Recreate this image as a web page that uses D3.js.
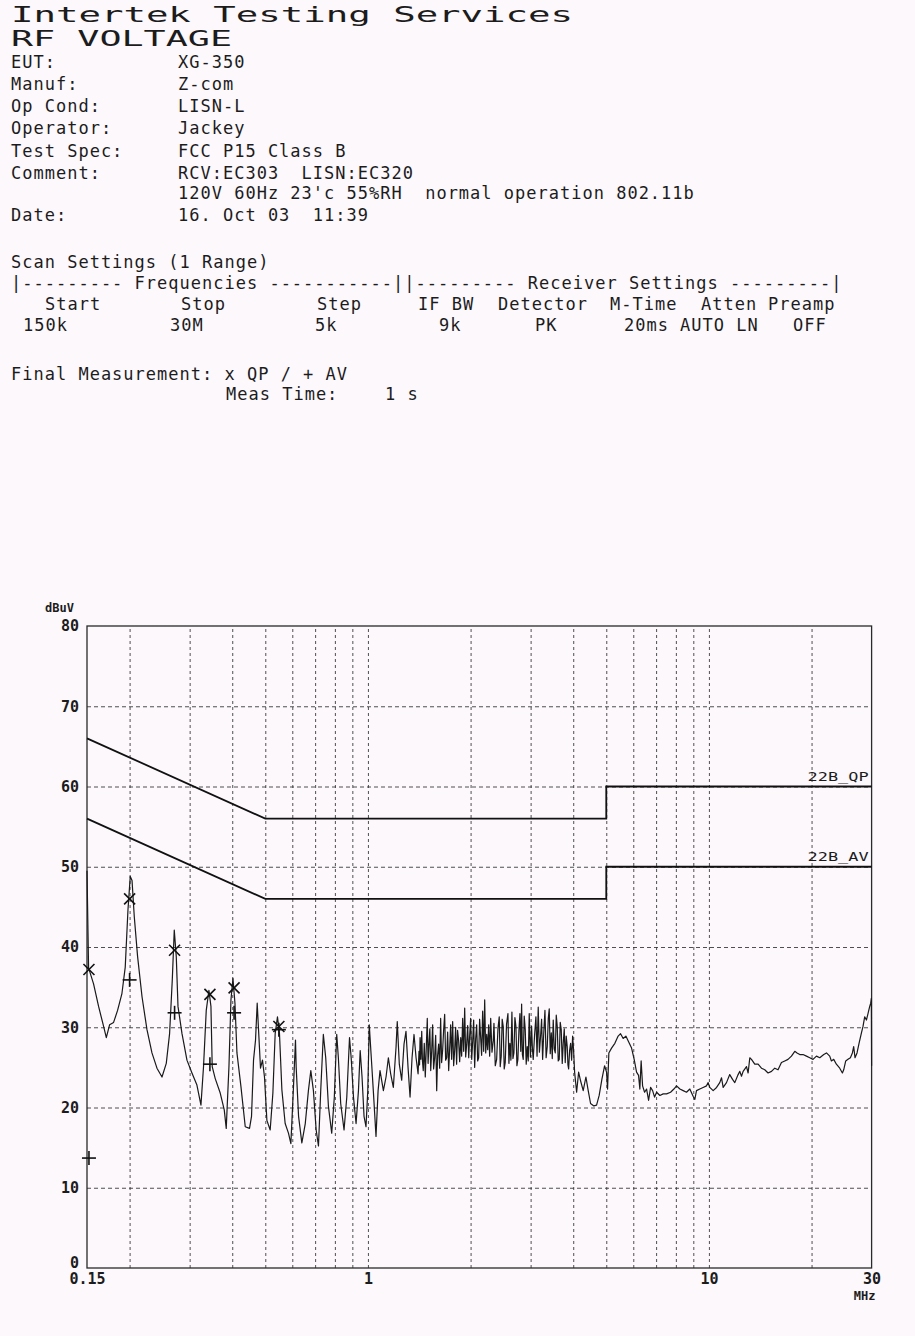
<!DOCTYPE html>
<html>
<head>
<meta charset="utf-8">
<script src="https://cdn.jsdelivr.net/npm/d3@7"></script>
<style>
  html, body { margin: 0; padding: 0; background: #fcf8fc; }
  svg { display: block; }
  text { white-space: pre; }
</style>
</head>
<body>
<svg id="page" width="915" height="1336"></svg>
<script>
// ---------- report header ----------
const reportTitle = "Intertek Testing Services";
const reportSubtitle = "RF VOLTAGE";
const infoLabels = ["EUT:", "Manuf:", "Op Cond:", "Operator:", "Test Spec:", "Comment:", "", "Date:"];
const infoValues = ["XG-350", "Z-com", "LISN-L", "Jackey", "FCC P15 Class B",
  "RCV:EC303  LISN:EC320", "120V 60Hz 23'c 55%RH  normal operation 802.11b", "16. Oct 03  11:39"];

// ---------- scan settings ----------
const scanTitle = "Scan Settings (1 Range)";
const scanRule = "|--------- Frequencies -----------||--------- Receiver Settings ---------|";
const scanHeads = ["Start", "Stop", "Step", "IF BW", "Detector", "M-Time", "Atten", "Preamp"];
const scanValues = ["150k", "30M", "5k", "9k", "PK", "20ms", "AUTO LN", "OFF"];
const finalLine1 = "Final Measurement: x QP / + AV";
const finalLine2a = "Meas Time:";
const finalLine2b = "1 s";

// ---------- chart axes ----------
const yTicks = [0, 10, 20, 30, 40, 50, 60, 70, 80];
const xTickLabels = [0.15, 1, 10, 30];
const gridFreqs = [0.2, 0.3, 0.4, 0.5, 0.6, 0.7, 0.8, 0.9, 1, 2, 3, 4, 5, 6, 7, 8, 9, 10, 20];

// ---------- limit lines (FCC Part 15 Class B, conducted) ----------
const limitQP = [[0.15, 66], [0.5, 56], [5, 56], [5, 60], [30, 60]];
const limitAV = [[0.15, 56], [0.5, 46], [5, 46], [5, 50], [30, 50]];
const limitNames = ["22B_QP", "22B_AV"];

// ---------- final measurements ----------
const finalFreq = [0.152, 0.200, 0.271, 0.344, 0.405, 0.548];
const qpLevel   = [37.2, 46.0, 39.6, 34.1, 34.9, 30.1];
const avLevel   = [13.7, 35.9, 31.8, 25.4, 31.8, 29.7];

// ---------- peak scan (MHz, dBuV) ----------
const peakScan = [
  [0.150,49.5],[0.1516,37.4],[0.1568,35.4],[0.1622,32.6],[0.1678,30.1],[0.1709,28.7],[0.1747,30.3],
  [0.1795,30.6],[0.1844,32.1],[0.1899,34.2],[0.1942,37.5],[0.1978,44.6],[0.2009,48.8],[0.2033,48.3],
  [0.2064,43.8],[0.2111,38.8],[0.2175,33.8],[0.2249,29.7],[0.2326,26.8],[0.2406,24.9],[0.2489,23.8],
  [0.2562,25.5],[0.2620,29.2],[0.2668,35.9],[0.2704,42.1],[0.2741,38.8],[0.2773,32.6],[0.2849,29.2],
  [0.2946,25.9],[0.3047,24.3],[0.3151,22.8],[0.3238,20.3],[0.3295,25.1],[0.3356,32.1],[0.3417,34.6],
  [0.3464,32.6],[0.3494,25.1],[0.3566,23.6],[0.3688,21.8],[0.3790,19.7],[0.3841,17.4],[0.3912,25.1],
  [0.3965,33.4],[0.4019,36.1],[0.4074,33.0],[0.4129,26.8],[0.4242,22.6],[0.4367,17.6],[0.4495,17.4],
  [0.4556,18.9],[0.4618,25.9],[0.4681,28.4],[0.4734,33.0],[0.4789,28.8],[0.4841,24.9],[0.4906,25.9],
  [0.4973,23.8],[0.5054,18.4],[0.5168,17.2],[0.5263,21.8],[0.5345,29.2],[0.5429,31.3],[0.5503,29.2],
  [0.5593,22.2],[0.5718,18.0],[0.5847,16.8],[0.5943,15.5],[0.6049,22.6],[0.6131,28.4],
  [0.616,25.0],[0.626,18.9],[0.640,15.6],[0.655,18.0],[0.669,22.1],[0.680,24.6],[0.692,22.1],
  [0.705,17.2],[0.716,15.2],[0.727,22.1],[0.740,29.1],[0.752,26.2],[0.766,20.1],[0.783,16.8],
  [0.797,21.3],[0.810,29.1],[0.819,26.2],[0.832,20.5],[0.851,17.2],[0.867,21.3],[0.883,28.7],
  [0.893,26.2],[0.907,21.3],[0.923,18.0],[0.938,22.1],[0.949,27.1],[0.961,23.8],[0.974,18.9],
  [0.987,17.6],[0.999,22.1],[1.009,30.3],[1.023,26.2],[1.037,22.1],[1.056,16.4],[1.071,22.1],
  [1.085,24.6],[1.110,22.1],[1.130,23.8],[1.148,26.2],[1.166,24.2],[1.187,22.5],[1.209,27.5],
  [1.219,30.7],[1.236,25.4],[1.256,23.4],[1.276,27.9],[1.293,29.5],[1.311,25.0],[1.329,21.3],
  [1.347,26.2],[1.365,29.1],[1.384,26.2],
  [1.403,24.2],[1.412,27.0],[1.417,25.3],[1.422,28.7],[1.430,26.0],[1.438,29.5],[1.445,25.8],
  [1.453,24.6],[1.463,28.0],[1.473,23.8],[1.483,27.5],[1.493,31.1],[1.501,25.5],[1.510,27.9],
  [1.519,29.8],[1.528,24.6],[1.538,27.0],[1.548,30.3],[1.558,24.8],[1.569,26.2],[1.580,29.0],
  [1.591,22.1],[1.601,26.5],[1.612,27.9],[1.623,24.9],[1.634,31.1],[1.645,25.6],[1.656,27.1],
  [1.667,29.6],[1.679,31.6],[1.690,25.9],[1.702,26.2],[1.713,29.4],[1.725,24.6],[1.737,27.4],
  [1.748,30.3],[1.760,26.0],[1.772,30.7],[1.784,25.2],[1.796,27.1],[1.808,30.0],[1.820,25.4],
  [1.832,29.6],[1.845,28.3],[1.858,25.7],[1.871,28.7],[1.883,26.4],[1.896,31.1],[1.909,27.0],
  [1.922,32.4],[1.935,26.3],[1.948,27.9],[1.961,30.2],[1.975,26.2],[1.988,29.0],[2.001,31.1],
  [2.015,26.0],[2.029,28.3],[2.042,30.9],[2.056,25.0],[2.070,28.6],[2.084,30.3],[2.098,25.8],
  [2.112,26.2],[2.126,31.0],[2.141,28.7],[2.155,26.5],[2.170,32.0],[2.185,27.0],[2.200,33.4],
  [2.215,26.8],[2.230,29.1],[2.245,27.2],[2.260,30.3],[2.275,26.4],[2.291,31.1],[2.311,26.9],
  [2.331,28.3],
  [2.342,30.5],[2.363,25.2],[2.385,26.0],[2.406,29.8],[2.427,31.3],[2.443,25.1],[2.460,26.4],
  [2.476,31.0],[2.493,30.1],[2.510,24.8],[2.527,25.6],[2.550,30.4],[2.574,31.7],[2.591,25.5],
  [2.608,28.0],[2.626,25.9],[2.644,31.9],[2.662,26.1],[2.680,26.8],[2.698,31.2],[2.717,30.1],
  [2.735,25.2],[2.753,26.0],[2.772,29.6],[2.791,31.7],[2.807,27.0],[2.823,32.9],[2.838,26.6],
  [2.854,26.0],[2.873,31.4],[2.893,29.7],[2.912,25.4],[2.932,27.6],[2.952,25.8],[2.972,31.7],
  [2.996,26.3],[3.020,30.1],[3.036,27.4],[3.053,26.0],[3.081,29.0],[3.109,31.3],[3.133,26.4],
  [3.158,32.5],[3.183,26.9],[3.209,28.9],[3.231,31.0],[3.253,26.0],[3.279,29.4],[3.305,32.1],
  [3.331,26.2],[3.357,27.6],[3.380,31.1],[3.402,32.3],[3.425,26.7],[3.449,29.3],[3.472,26.1],
  [3.495,30.9],[3.519,27.3],[3.543,26.8],[3.567,31.5],[3.591,30.1],[3.615,25.8],[3.640,26.0],
  [3.664,30.6],[3.689,29.7],[3.714,25.5],[3.739,28.0],[3.765,29.8],[3.790,25.6],[3.815,28.9],
  [3.841,27.6],[3.860,25.3],[3.878,24.8],[3.904,27.1],[3.930,28.0],[3.957,25.9],[3.984,28.9],
  [4.011,27.0],[4.038,24.4],[4.093,21.9],[4.148,24.4],
  [4.205,23.3],[4.279,22.1],[4.358,23.8],[4.426,22.1],[4.497,20.5],[4.599,20.2],[4.683,20.3],
  [4.766,21.5],[4.854,23.5],[4.943,25.2],[5.010,24.4],[5.044,22.3],[5.088,26.8],[5.182,27.4],
  [5.299,28.0],[5.418,28.9],[5.507,29.2],[5.605,28.6],[5.708,28.9],[5.813,28.2],[5.932,27.4],
  [6.037,26.0],[6.135,24.4],[6.218,24.0],[6.273,22.3],[6.328,25.8],[6.389,22.7],[6.477,21.9],
  [6.565,22.3],[6.655,20.9],[6.745,22.5],[6.837,22.1],[6.929,21.3],[7.024,21.9],[7.182,21.5],
  [7.344,21.7],[7.514,21.7],[7.719,21.9],[7.893,22.3],[8.038,22.7],
  [8.219,22.3],[8.404,22.1],[8.596,21.9],[8.790,22.3],[8.988,21.4],[9.092,21.0],[9.196,22.1],
  [9.403,22.3],[9.616,22.5],[9.840,22.7],[9.946,23.1],[10.06,22.5],[10.29,22.1],[10.53,22.5],
  [10.76,23.1],[10.89,23.7],[11.01,22.5],[11.26,23.1],[11.51,24.1],[11.73,23.5],[11.91,23.1],
  [12.18,24.1],[12.32,24.5],[12.46,23.9],[12.60,24.5],[12.89,25.1],[13.03,24.3],[13.18,26.2],
  [13.33,26.0],[13.63,25.4],[13.94,25.4],[14.26,24.9],[14.58,24.7],[14.91,24.3],[15.26,24.5],
  [15.60,24.9],[15.95,24.7],[16.32,25.6],[16.69,25.8],[17.06,26.0],[17.46,26.4],[17.86,27.0],
  [18.13,26.8],[18.47,26.6],[18.88,26.6],[19.32,26.4],[19.76,26.2],[20.20,26.0],[20.67,26.4],
  [21.14,26.2],[21.72,26.6],[22.12,26.8],[22.61,26.4],[22.87,25.8],[23.23,26.0],[23.65,25.4],
  [24.19,24.9],[24.63,24.3],[24.85,24.7],[25.19,25.8],[25.58,26.0],[26.00,26.2],[26.35,26.8],
  [26.58,27.6],[26.82,26.2],[27.19,26.8],[27.56,28.0],[28.01,29.3],[28.31,30.1],[28.63,31.3],
  [28.97,30.9],[29.28,31.7],[29.62,32.6],[29.82,33.0],[29.95,33.6],[30.0,25.2]
];

// ---------- drawing ----------
const svg = d3.select("#page");
svg.append("rect").attr("width", 915).attr("height", 1336).attr("fill", "#fcf8fc");

const ink = "#1c1c1c";
const monoFont = "'DejaVu Sans Mono', 'Liberation Mono', monospace";

// header title lines (wide plotter style)
svg.append("text").text(reportTitle)
  .attr("x", 11).attr("y", 22)
  .attr("font-family", monoFont).attr("font-size", 21)
  .attr("textLength", 562).attr("lengthAdjust", "spacingAndGlyphs")
  .attr("fill", ink);
svg.append("text").text(reportSubtitle)
  .attr("x", 11).attr("y", 46)
  .attr("font-family", monoFont).attr("font-size", 21)
  .attr("textLength", 221).attr("lengthAdjust", "spacingAndGlyphs")
  .attr("fill", ink);

const bodyText = (str, x, y) => svg.append("text").text(str)
  .attr("x", x).attr("y", y)
  .attr("font-family", monoFont).attr("font-size", 17)
  .attr("letter-spacing", 1.0)
  .attr("fill", ink);

const infoBaselines = [68, 90, 112, 134, 157, 179, 199, 221];
infoLabels.forEach((t, i) => { if (t) bodyText(t, 11, infoBaselines[i]); });
infoValues.forEach((t, i) => bodyText(t, 178, infoBaselines[i]));

bodyText(scanTitle, 11, 268);
bodyText(scanRule, 11, 289);
const headX = [45, 181, 317, 418, 498, 610, 701, 768];
const valX = [23, 170, 315, 439, 535, 624, 680, 793];
scanHeads.forEach((t, i) => bodyText(t, headX[i], 310));
scanValues.forEach((t, i) => bodyText(t, valX[i], 331));
bodyText(finalLine1, 11, 380);
bodyText(finalLine2a, 226, 400);
bodyText(finalLine2b, 385, 400);

// ---------- plot ----------
const plot = { left: 87, right: 871.6, top: 626, bottom: 1268 };
const x = d3.scaleLog().domain([0.15, 30]).range([plot.left, plot.right]);
const y = d3.scaleLinear().domain([0, 80]).range([plot.bottom, plot.top]);

const g = svg.append("g");

// grid
g.append("g").attr("transform", `translate(0,${plot.bottom})`)
  .call(d3.axisBottom(x).tickValues(gridFreqs).tickSize(-(plot.bottom - plot.top)).tickFormat(""))
  .call(s => s.select(".domain").remove())
  .call(s => s.selectAll("line").attr("stroke", "#333").attr("stroke-width", 1)
    .attr("stroke-dasharray", "3,3").attr("opacity", 0.85));
g.append("g").attr("transform", `translate(${plot.left},0)`)
  .call(d3.axisLeft(y).tickValues(yTicks.filter(v => v > 0 && v < 80))
    .tickSize(-(plot.right - plot.left)).tickFormat(""))
  .call(s => s.select(".domain").remove())
  .call(s => s.selectAll("line").attr("stroke", "#333").attr("stroke-width", 1)
    .attr("stroke-dasharray", "4,3").attr("opacity", 0.85));

// frame
g.append("rect").attr("x", plot.left).attr("y", plot.top)
  .attr("width", plot.right - plot.left).attr("height", plot.bottom - plot.top)
  .attr("fill", "none").attr("stroke", "#2a2a2a").attr("stroke-width", 1.3);

// axis labels
const labelSize = 15;
g.append("g").attr("transform", `translate(${plot.left},0)`)
  .call(d3.axisLeft(y).tickValues(yTicks).tickSize(0).tickPadding(8).tickFormat(d3.format("d")))
  .call(s => s.select(".domain").remove())
  .call(s => s.selectAll("text").attr("font-family", monoFont)
    .attr("font-size", labelSize).attr("font-weight", "bold").attr("fill", ink))
  .call(s => s.selectAll(".tick").filter(d => d === 0).select("text").attr("dy", "-0.05em"));

g.append("g").attr("transform", `translate(0,${plot.bottom})`)
  .call(d3.axisBottom(x).tickValues(xTickLabels).tickSize(0).tickPadding(5)
    .tickFormat(d => d < 1 ? String(d) : d3.format("d")(d)))
  .call(s => s.select(".domain").remove())
  .call(s => s.selectAll("text").attr("font-family", monoFont)
    .attr("font-size", labelSize).attr("font-weight", "bold").attr("fill", ink));

svg.append("text").text("MHz").attr("x", x(30) - 7).attr("y", 1300)
  .attr("text-anchor", "middle").attr("font-family", monoFont).attr("font-size", 12)
  .attr("font-weight", "bold").attr("fill", ink);
svg.append("text").text("dBuV").attr("x", 45).attr("y", 612)
  .attr("font-family", monoFont).attr("font-size", 12)
  .attr("font-weight", "bold").attr("fill", ink);

// limit lines
const lineGen = d3.line().x(d => x(d[0])).y(d => y(d[1]));
[limitQP, limitAV].forEach((lim, i) => {
  g.append("path").datum(lim).attr("d", lineGen)
    .attr("fill", "none").attr("stroke", "#111").attr("stroke-width", 1.8);
  g.append("text").text(limitNames[i])
    .attr("x", x(30) - 64).attr("y", y(lim[lim.length - 1][1]) - 6)
    .attr("font-family", monoFont).attr("font-size", 13)
    .attr("textLength", 61).attr("lengthAdjust", "spacingAndGlyphs")
    .attr("fill", ink);
});

// peak scan trace
g.append("path").datum(peakScan).attr("d", lineGen)
  .attr("fill", "none").attr("stroke", "#1a1a1a").attr("stroke-width", 1.2)
  .attr("stroke-linejoin", "round");

// final measurement markers: x = QP, + = AV
const marks = g.append("g").attr("stroke", "#111").attr("stroke-width", 1.6);
finalFreq.forEach((f, i) => {
  const cx = x(f), qy = y(qpLevel[i]), ay = y(avLevel[i]);
  const s = 5.5;
  marks.append("line").attr("x1", cx - s).attr("y1", qy - s).attr("x2", cx + s).attr("y2", qy + s);
  marks.append("line").attr("x1", cx - s).attr("y1", qy + s).attr("x2", cx + s).attr("y2", qy - s);
  const p = 7;
  marks.append("line").attr("x1", cx - p).attr("y1", ay).attr("x2", cx + p).attr("y2", ay);
  marks.append("line").attr("x1", cx).attr("y1", ay - p).attr("x2", cx).attr("y2", ay + p);
});
</script>
</body>
</html>
